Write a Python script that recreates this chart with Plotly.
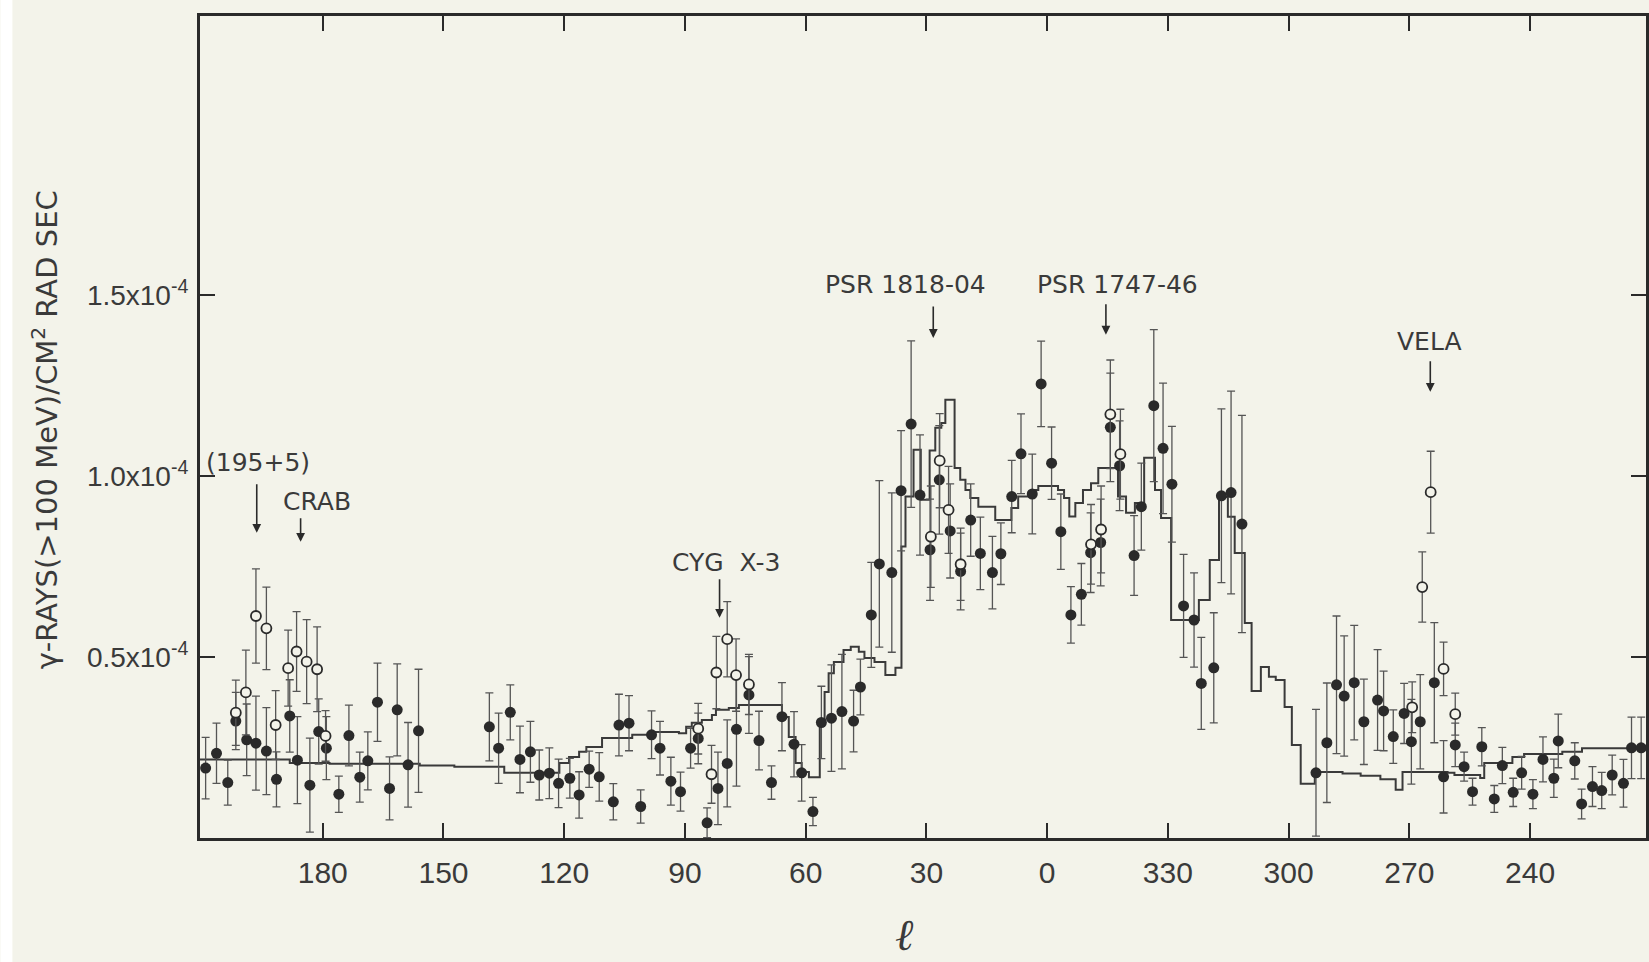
import plotly.graph_objects as go

# ---------------- data (galactic longitude l in degrees, flux in units of 1e-4) ----------------
filled_l = [209.1, 206.4, 203.6, 201.6, 198.9, 196.6, 194.0, 191.5, 188.2, 186.3, 183.2, 181.0, 179.1,
            176.0, 173.5, 170.8, 168.8, 166.4, 163.4, 161.5, 158.8, 156.2,
            138.6, 136.3, 133.4, 131.0, 128.4, 126.2, 123.7, 121.4, 118.6, 116.3, 113.8, 111.3, 107.8,
            106.4, 103.9, 101.0, 98.3, 96.2, 93.5, 91.1, 88.6, 86.7, 84.5, 81.8, 79.5, 77.2, 74.1, 71.6,
            68.5, 65.9, 62.9, 61.0, 58.2, 56.1, 53.6, 51.0, 48.1, 46.4,
            43.7, 41.7, 38.6, 36.3, 33.8, 31.6, 29.1, 26.8, 24.1, 21.5, 19.0, 16.6, 13.6, 11.5, 8.8, 6.5,
            3.7, 1.5, 358.9, 356.6, 354.1, 351.5, 349.2, 346.7, 344.3, 342.0, 338.4, 336.6, 333.5, 331.2,
            329.0, 326.1, 323.5, 321.7, 318.6, 316.7, 314.3, 311.6,
            293.2, 290.5, 288.1, 286.2, 283.7, 281.3, 277.9, 276.4, 274.0, 271.3, 269.5, 267.3, 263.8,
            261.5, 258.6, 256.4, 254.3, 252.0, 248.9, 246.9, 244.2, 242.1, 239.3, 236.8, 234.1, 233.0,
            228.9, 227.2, 224.5, 222.2, 219.6, 216.8, 214.8, 212.4]
filled_flux = [0.193, 0.234, 0.153, 0.323, 0.271, 0.262, 0.240, 0.162, 0.337, 0.215, 0.146, 0.294, 0.248,
               0.121, 0.283, 0.168, 0.213, 0.375, 0.137, 0.354, 0.202, 0.296,
               0.307, 0.248, 0.347, 0.217, 0.238, 0.174, 0.179, 0.151, 0.165, 0.119, 0.190, 0.169, 0.100,
               0.312, 0.317, 0.087, 0.285, 0.248, 0.157, 0.128, 0.248, 0.275, 0.042, 0.137, 0.206, 0.300,
               0.395, 0.269, 0.153, 0.335, 0.259, 0.180, 0.073, 0.319, 0.331, 0.349, 0.323, 0.417,
               0.616, 0.757, 0.733, 0.959, 1.143, 0.947, 0.796, 0.989, 0.848, 0.736, 0.878, 0.786, 0.733,
               0.785, 0.943, 1.061, 0.950, 1.254, 1.035, 0.846, 0.616, 0.673, 0.788, 0.816, 1.134, 1.028,
               0.780, 0.915, 1.194, 1.076, 0.977, 0.641, 0.602, 0.427, 0.470, 0.945, 0.954, 0.867,
               0.180, 0.263, 0.423, 0.392, 0.429, 0.321, 0.381, 0.351, 0.280, 0.344, 0.266, 0.321, 0.429,
               0.169, 0.257, 0.197, 0.128, 0.252, 0.108, 0.200, 0.126, 0.180, 0.121, 0.217, 0.165, 0.268,
               0.213, 0.094, 0.142, 0.131, 0.174, 0.151, 0.249, 0.249]
filled_err = [0.085, 0.083, 0.062, 0.079, 0.099, 0.130, 0.120, 0.076, 0.100, 0.120, 0.130, 0.090, 0.087,
              0.050, 0.084, 0.069, 0.080, 0.108, 0.087, 0.127, 0.117, 0.170,
              0.094, 0.097, 0.076, 0.092, 0.084, 0.069, 0.070, 0.067, 0.055, 0.064, 0.050, 0.067, 0.050,
              0.085, 0.076, 0.046, 0.066, 0.074, 0.066, 0.054, 0.055, 0.070, 0.041, 0.100, 0.120, 0.157,
              0.106, 0.081, 0.046, 0.094, 0.090, 0.078, 0.039, 0.100, 0.147, 0.158, 0.085, 0.077,
              0.145, 0.230, 0.220, 0.166, 0.230, 0.166, 0.140, 0.150, 0.130, 0.106, 0.100, 0.100, 0.100,
              0.085, 0.100, 0.110, 0.110, 0.118, 0.100, 0.104, 0.078, 0.085, 0.110, 0.120, 0.150, 0.124,
              0.110, 0.120, 0.210, 0.180, 0.160, 0.142, 0.130, 0.127, 0.152, 0.240, 0.280, 0.300,
              0.175, 0.165, 0.190, 0.166, 0.158, 0.118, 0.139, 0.110, 0.074, 0.083, 0.117, 0.130, 0.166,
              0.100, 0.060, 0.040, 0.037, 0.053, 0.037, 0.050, 0.039, 0.045, 0.040, 0.062, 0.053, 0.074,
              0.050, 0.041, 0.055, 0.050, 0.055, 0.066, 0.085, 0.085]

open_l = [201.6, 199.1, 196.6, 194.0, 191.7, 188.6, 186.5, 184.0, 181.4, 179.3,
          86.7, 83.4, 82.2, 79.5, 77.3, 74.1,
          28.9, 26.7, 24.5, 21.5,
          349.1, 346.6, 344.3, 341.8,
          269.3, 266.8, 264.7, 261.5, 258.6]
open_flux = [0.346, 0.402, 0.613, 0.579, 0.312, 0.469, 0.515, 0.487, 0.466, 0.282,
             0.302, 0.176, 0.457, 0.549, 0.450, 0.424,
             0.832, 1.042, 0.906, 0.756,
             0.811, 0.852, 1.170, 1.060,
             0.361, 0.693, 0.955, 0.467, 0.342]
open_err = [0.090, 0.117, 0.130, 0.114, 0.095, 0.105, 0.110, 0.116, 0.117, 0.070,
            0.070, 0.080, 0.100, 0.104, 0.100, 0.083,
            0.140, 0.130, 0.120, 0.100,
            0.110, 0.120, 0.150, 0.124,
            0.070, 0.097, 0.113, 0.074, 0.058]

# step-line model (left edge of each step, value over that step)
step_l = [210.5, 188.2, 178.3, 155.9, 147.3, 134.9, 121.2, 118.8, 116.3, 114.5, 110.6, 103.1, 98.2,
          91.5, 89.7, 88.3, 85.8, 83.3, 82.3, 79.1, 76.6, 65.9, 64.2, 62.5, 61.0, 59.2, 56.5, 55.3,
          54.3, 53.0, 50.6, 48.8, 46.8, 45.4, 42.9, 40.2, 37.7, 36.2, 35.2, 33.2, 31.4, 29.2, 27.8,
          26.3, 25.3, 23.0, 21.6, 20.3, 19.1, 17.1, 12.9, 8.9, 7.2, 4.0, 2.2,
          357.3, 355.8, 354.5, 353.0, 351.1, 349.1, 347.3, 342.4, 340.4, 338.2, 335.9, 333.2, 331.7,
          329.2, 322.3, 319.6, 317.3, 315.1, 313.4, 310.9, 309.2, 306.9, 304.9, 303.2, 301.0, 299.2,
          297.0, 293.5, 286.6, 282.1, 277.2, 273.4, 271.7, 260.5, 258.8, 252.4, 251.4, 244.4, 241.5,
          232.0, 227.1]
step_flux = [0.217, 0.207, 0.205, 0.200, 0.197, 0.180, 0.207, 0.224, 0.238, 0.251, 0.276, 0.285, 0.293,
             0.289, 0.307, 0.318, 0.326, 0.340, 0.354, 0.359, 0.367, 0.334, 0.279, 0.207, 0.182, 0.168,
             0.326, 0.403, 0.455, 0.486, 0.519, 0.528, 0.514, 0.497, 0.486, 0.450, 0.470, 0.805, 0.943,
             1.072, 0.934, 1.070, 1.133, 1.146, 1.210, 1.022, 0.989, 0.961, 0.939, 0.915, 0.878, 0.911,
             0.943, 0.961, 0.972,
             0.961, 0.939, 0.888, 0.925, 0.961, 0.980, 1.022, 0.943, 0.898, 0.925, 1.050, 0.961, 0.884,
             0.602, 0.657, 0.768, 0.942, 0.887, 0.787, 0.594, 0.406, 0.472, 0.445, 0.436, 0.362, 0.257,
             0.150, 0.182, 0.178, 0.172, 0.162, 0.133, 0.182, 0.180, 0.174, 0.166, 0.207, 0.224, 0.232,
             0.238, 0.248]
step_end_l = 211.2  # right-hand end of the last step (l = 211.2 deg)

x_tick_l = [180, 150, 120, 90, 60, 30, 0, 330, 300, 270, 240]
x_tick_text = ["180", "150", "120", "90", "60", "30", "0", "330", "300", "270", "240"]
y_tick_vals = [0.5, 1.0, 1.5]
y_tick_text = ["0.5x10<sup>-4</sup>", "1.0x10<sup>-4</sup>", "1.5x10<sup>-4</sup>"]

# source markers: (label, arrow longitude, arrow tip flux)
sources = [("(195+5)", 196.4, 0.843), ("CRAB", 185.5, 0.818), ("CYG  X-3", 81.4, 0.608),
           ("PSR 1818-04", 28.3, 1.381), ("PSR 1747-46", 345.4, 1.390), ("VELA", 264.8, 1.232)]


def unwrap(l):
    """Map longitude onto the continuous axis that runs 210 -> 0 -> 210 (=-150)."""
    return l if l <= 211 else l - 360


W, H = 1649, 962
ML, MR, MT, MB = 200, 0, 16, 124
PW, PH = W - ML - MR, H - MT - MB


def px(x):  # figure pixel -> paper x
    return (x - ML) / PW


def py(y):  # figure pixel -> paper y
    return (H - MB - y) / PH


BG = "#f3f3ea"
INK = "#2a2a2a"
TXT = "#3a3a3a"

fig = go.Figure()

# step model line
sx = [unwrap(v) for v in step_l] + [unwrap(step_end_l)]
sy = list(step_flux) + [step_flux[-1]]
fig.add_trace(go.Scatter(x=sx, y=sy, mode="lines", line=dict(color="#3a3a3a", width=2, shape="hv"),
                         hoverinfo="skip", showlegend=False))

# filled points
fig.add_trace(go.Scatter(
    x=[unwrap(v) for v in filled_l], y=filled_flux, mode="markers",
    marker=dict(symbol="circle", size=11, color=INK),
    error_y=dict(type="data", array=filled_err, color="#555555", thickness=1.3, width=4),
    showlegend=False))

# open points
fig.add_trace(go.Scatter(
    x=[unwrap(v) for v in open_l], y=open_flux, mode="markers",
    marker=dict(symbol="circle", size=10, color=BG, line=dict(color=INK, width=1.8)),
    error_y=dict(type="data", array=open_err, color="#555555", thickness=1.3, width=4),
    showlegend=False))

# source labels and arrows
label_pos = {"(195+5)": (196.1, 1.036), "CRAB": (181.5, 0.928), "CYG  X-3": (79.8, 0.762),
             "PSR 1818-04": (35.2, 1.528), "PSR 1747-46": (342.6, 1.528), "VELA": (265.0, 1.370)}
arrow_len = {"(195+5)": 50, "CRAB": 25, "CYG  X-3": 40, "PSR 1818-04": 33, "PSR 1747-46": 32, "VELA": 32}
for name, al, tip in sources:
    fig.add_annotation(x=unwrap(al), y=tip, xref="x", yref="y", text="", showarrow=True,
                       ax=0, ay=-arrow_len[name], arrowhead=2, arrowsize=1.1, arrowwidth=1.6,
                       arrowcolor=INK)
    lx, ly = label_pos[name]
    fig.add_annotation(x=unwrap(lx), y=ly, xref="x", yref="y", text=name, showarrow=False,
                       font=dict(family="DejaVu Sans", size=25, color=TXT))

# y-axis title
fig.add_annotation(x=px(45), y=py(430), xref="paper", yref="paper", xanchor="center", yanchor="middle",
                   text="γ-RAYS(>100 MeV)/CM<sup>2</sup> RAD SEC", textangle=-90, showarrow=False,
                   font=dict(family="DejaVu Sans", size=29, color=TXT))
# x-axis title
fig.add_annotation(x=px(906), y=py(934), xref="paper", yref="paper", xanchor="center", yanchor="middle",
                   text="<i>ℓ</i>", showarrow=False,
                   font=dict(family="DejaVu Serif", size=44, color=TXT))

# white strip at far left of the scan
fig.add_shape(type="rect", xref="paper", yref="paper", x0=px(0), x1=px(12), y0=py(H), y1=py(0),
              fillcolor="#ffffff", line=dict(width=0), layer="below")

axis_common = dict(showline=True, linewidth=3, linecolor=INK, mirror="ticks", ticks="inside",
                   ticklen=15, tickwidth=2, tickcolor=INK, showgrid=False, zeroline=False)

fig.update_layout(
    width=W, height=H,
    margin=dict(l=ML, r=MR, t=MT, b=MB),
    paper_bgcolor=BG, plot_bgcolor=BG,
    xaxis=dict(range=[210.5, -148.8], tickvals=[unwrap(v) for v in x_tick_l], ticktext=x_tick_text,
               ticklabelstandoff=6, tickfont=dict(family="Liberation Sans", size=30, color=TXT),
               **axis_common),
    yaxis=dict(range=[0, 2.27], tickvals=y_tick_vals, ticktext=y_tick_text,
               ticklabelstandoff=3, tickfont=dict(family="Liberation Sans", size=28, color=TXT),
               **axis_common),
    showlegend=False,
)

fig.write_html("out.html", config={"displayModeBar": False},
               post_script="document.body.style.margin='0px';document.body.style.overflow='hidden';")
